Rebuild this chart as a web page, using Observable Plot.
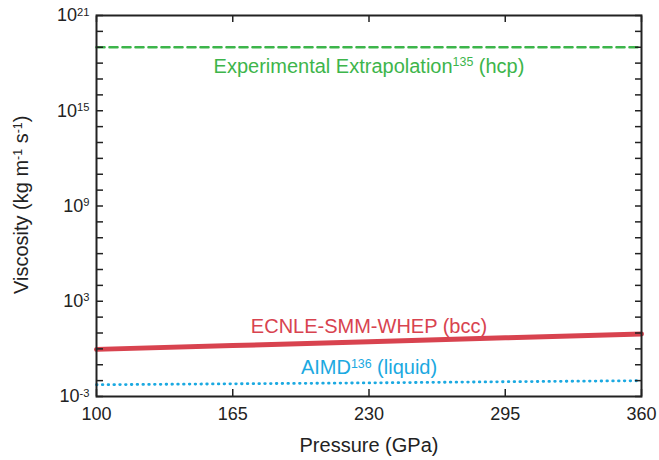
<!DOCTYPE html>
<html>
<head>
<meta charset="utf-8">
<script src="https://cdn.jsdelivr.net/npm/d3@7"></script>
<script src="https://cdn.jsdelivr.net/npm/@observablehq/plot@0.6"></script>
<style>
  html, body { margin: 0; padding: 0; background: #fff; }
  #chart svg { display: block; }
</style>
</head>
<body>
<div id="chart"></div>
<script>
// ---- data ----
const pressure = [100, 165, 230, 295, 360];               // GPa
const ecnleViscosity = [0.93, 1.62, 2.8, 5.0, 8.7];        // ECNLE-SMM-WHEP (bcc)
const aimdViscosity = [0.0055, 0.0063, 0.0072, 0.0085, 0.0099]; // AIMD (liquid)
const expPressure = [100, 360];
const expViscosity = [1e19, 1e19];                          // Experimental extrapolation (hcp)

const xTickValues = [100, 165, 230, 295, 360];
const yLabelExponents = [-3, 3, 9, 15, 21];
const yMinorExponents = [-3, -2, -1, 0, 1, 2, 3, 4, 5, 6, 7, 8, 9, 10, 11, 12, 13, 14, 15, 16, 17, 18, 19, 20, 21];

const xTitle = "Pressure (GPa)";
const yTitle = "Viscosity (kg m^{-1} s^{-1})";
const expLabel = "Experimental Extrapolation^{135} (hcp)";
const ecnleLabel = "ECNLE-SMM-WHEP (bcc)";
const aimdLabel = "AIMD^{136} (liquid)";

// ---- colours ----
const green = "#3db54b";
const red = "#d8434f";
const blue = "#1ba9e1";
const ink = "#222";

const ecnleData = pressure.map((p, i) => ({p, v: ecnleViscosity[i]}));
const aimdData = pressure.map((p, i) => ({p, v: aimdViscosity[i]}));
const expData = expPressure.map((p, i) => ({p, v: expViscosity[i]}));
const yLabelTicks = yLabelExponents.map(e => Math.pow(10, e));
const yMinorTicks = yMinorExponents.map(e => Math.pow(10, e));

const chart = Plot.plot({
  width: 659,
  height: 460,
  marginLeft: 96,
  marginRight: 18,
  marginTop: 15,
  marginBottom: 64,
  style: {fontFamily: "'Liberation Sans', Arial, Helvetica, sans-serif", background: "#fff", color: ink},
  x: {domain: [100, 360]},
  y: {type: "log", domain: [1e-3, 1e21]},
  marks: [
    Plot.lineY(aimdData, {x: "p", y: "v", stroke: blue, strokeWidth: 2.8, strokeLinecap: "round", strokeDasharray: "0.6 5.2"}),
    Plot.lineY(ecnleData, {x: "p", y: "v", stroke: red, strokeWidth: 5}),
    Plot.lineY(expData, {x: "p", y: "v", stroke: green, strokeWidth: 2.6, strokeDasharray: "8 5"}),

    Plot.text([expData[0]], {x: () => pressure[2], y: "v", text: () => expLabel, fill: green, fontSize: 20, dy: 19}),
    Plot.text([ecnleData[2]], {x: "p", y: "v", text: () => ecnleLabel, fill: red, fontSize: 20, dy: -15}),
    Plot.text([aimdData[2]], {x: "p", y: "v", text: () => aimdLabel, fill: blue, fontSize: 20, dy: -15}),

    Plot.frame({stroke: ink, strokeWidth: 2}),

    // inward ticks
    Plot.axisY(yMinorTicks, {anchor: "left", tickSize: -7, fill: "none", stroke: ink, strokeWidth: 1.5, label: null}),
    Plot.axisY(yMinorTicks, {anchor: "right", tickSize: -7, fill: "none", stroke: ink, strokeWidth: 1.5, label: null}),
    Plot.axisX(xTickValues, {anchor: "bottom", tickSize: -7, fill: "none", stroke: ink, strokeWidth: 1.5, label: null}),
    Plot.axisX(xTickValues, {anchor: "top", tickSize: -6, fill: "none", stroke: ink, strokeWidth: 1.5, label: null}),

    // tick labels
    Plot.axisY(yLabelTicks, {anchor: "left", tickSize: 0, tickPadding: 7, fontSize: 18, fill: ink, label: null,
      tickFormat: d => "10^{" + Math.round(Math.log10(d)) + "}"}),
    Plot.axisX(xTickValues, {anchor: "bottom", tickSize: 0, tickPadding: 11, fontSize: 18, fill: ink, label: null,
      tickFormat: d => String(d)}),

    // axis titles
    Plot.text([xTitle], {frameAnchor: "bottom", text: d => d, fontSize: 20, fill: ink, lineAnchor: "bottom", dy: 55}),
    Plot.text([yTitle], {frameAnchor: "middle", text: d => d, fontSize: 20, fill: ink, rotate: -90,
      textAnchor: "start", lineAnchor: "middle", dx: -347.5, dy: 88})
  ]
});

document.getElementById("chart").appendChild(chart);

// render "^{...}" as real superscript tspans
function supify(svg) {
  svg.querySelectorAll("text").forEach(el => {
    const s = el.textContent;
    if (!s.includes("^{")) return;
    const fs = parseFloat(getComputedStyle(el).fontSize) || 18;
    const shift = fs * 0.32;
    el.textContent = "";
    let raised = false;
    s.split(/(\^\{[^}]*\})/).forEach(part => {
      if (!part) return;
      const t = document.createElementNS("http://www.w3.org/2000/svg", "tspan");
      if (part.startsWith("^{")) {
        t.textContent = part.slice(2, -1);
        t.setAttribute("font-size", (fs * 0.62).toFixed(2));
        t.setAttribute("dy", (-shift).toFixed(2));
        raised = true;
      } else {
        t.textContent = part;
        if (raised) { t.setAttribute("dy", shift.toFixed(2)); raised = false; }
      }
      el.appendChild(t);
    });
  });
}
supify(chart);
</script>
</body>
</html>
